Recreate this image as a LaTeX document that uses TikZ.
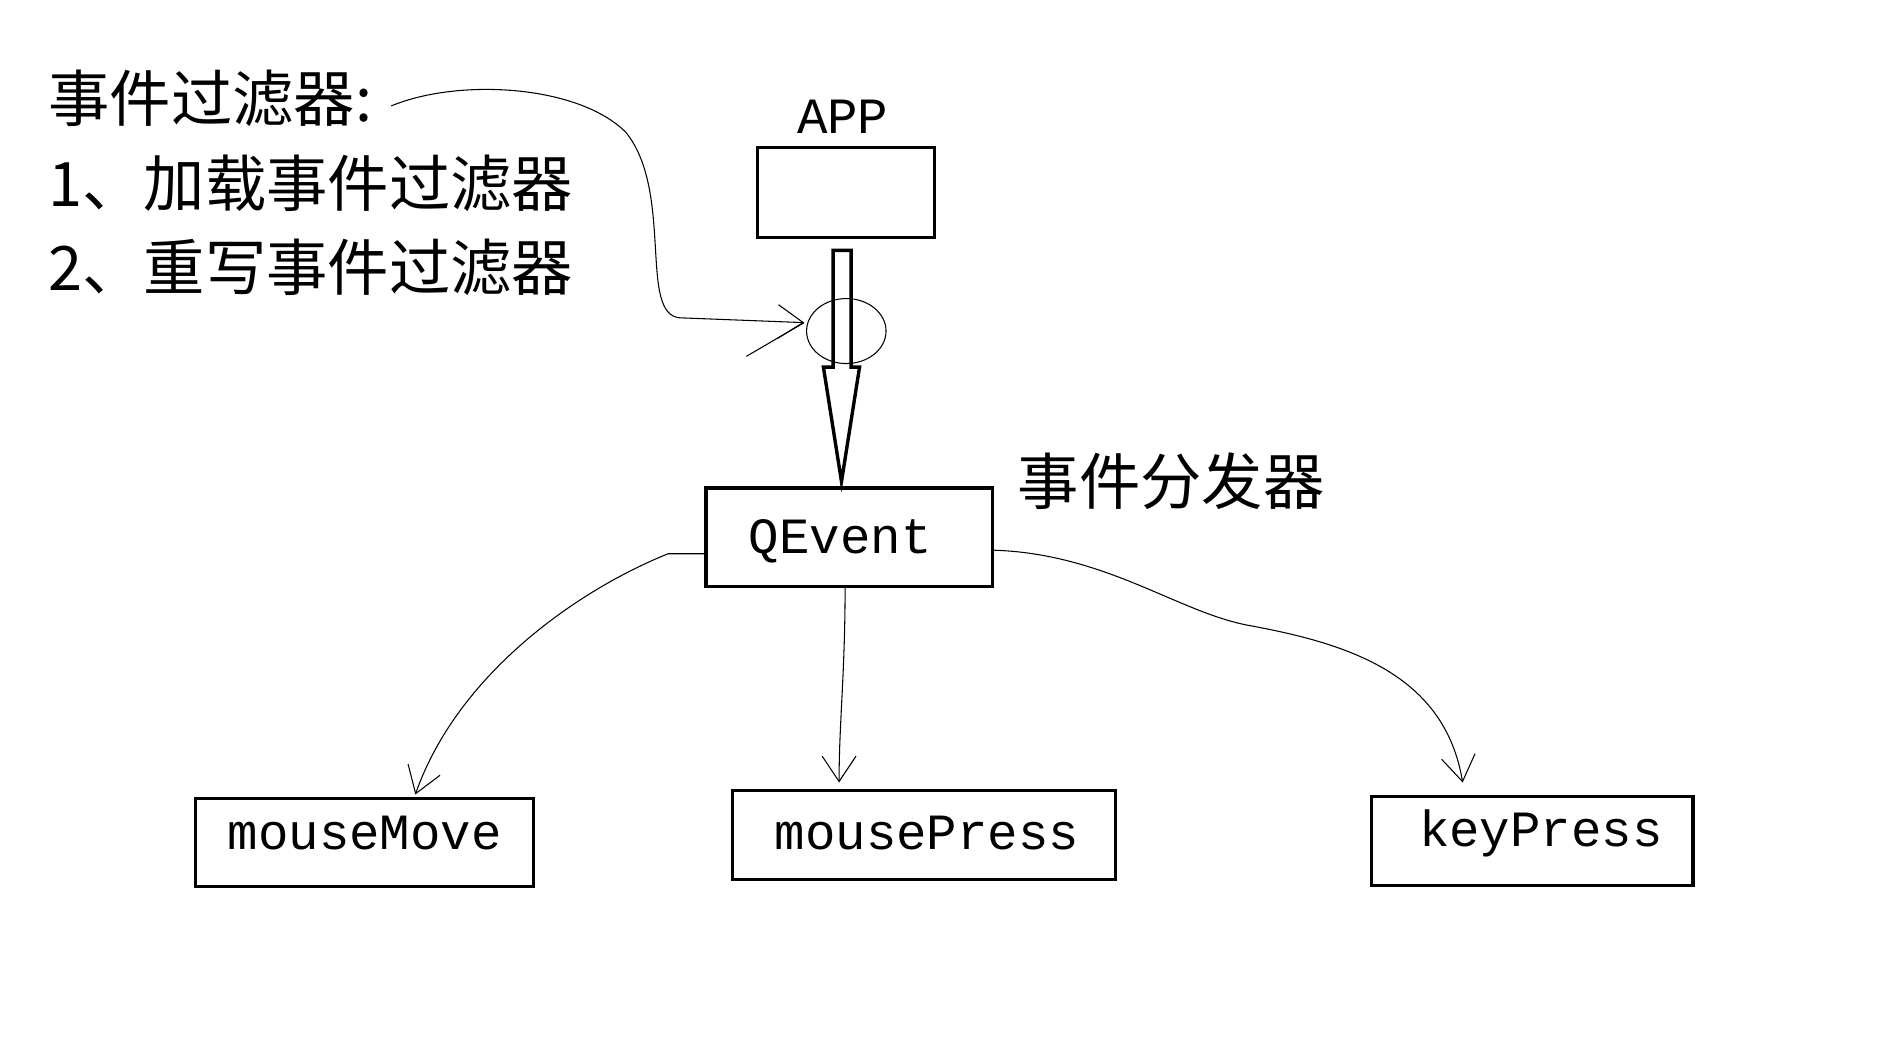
\documentclass[tikz,border=0pt]{standalone}
\usepackage{fontspec}
\newfontfamily\cjk{Noto Sans CJK SC}
\newfontfamily\mono{Liberation Mono}
\usetikzlibrary{arrows.meta}
\begin{document}
\begin{tikzpicture}[x=0.02cm,y=-0.02cm,
  box/.style={draw,line width=1.6pt,inner sep=0pt,anchor=north west},
  lbl/.style={font=\mono\fontsize{24}{26}\selectfont},
  zh/.style={font=\cjk\fontsize{29}{32}\selectfont,anchor=west,inner sep=0pt},
  thin/.style={line width=0.5pt,-{Straight Barb[length=12pt,width=16pt]}}]
\useasboundingbox (0,0) rectangle (1560,875);
\node[zh] (t1) at (40,82) {事件过滤器:};
\node[zh] (t2) at (40,152) {1、加载事件过滤器};
\node[zh] (t3) at (40,222) {2、重写事件过滤器};
\node[lbl,inner sep=0pt] (applbl) at (700,97) {APP};
\node[box,minimum width=147*0.02cm,minimum height=75*0.02cm] (app) at (628,121) {};
\draw[line width=1.6pt] (692,208) -- (707,208) -- (707,305) -- (714,305) -- (699,400) -- (684,305) -- (692,305) -- cycle;
\draw[line width=0.5pt] (703,275) ellipse (33 and 27);
\coordinate (tip) at (668,268);
\draw[thin] (325,88) .. controls (380,65) and (480,70) .. (520,110)
  .. controls (560,160) and (530,262) .. (565,264) -- (tip);
\draw[line width=0.5pt] (tip) -- (620,296);
\node[box,minimum width=238*0.02cm,minimum height=82*0.02cm] (qe) at (585,404) {};
\node[lbl] at (698,450) {QEvent};
\node[zh] (fa) at (845,400) {事件分发器};
\node[box,minimum width=281*0.02cm,minimum height=73*0.02cm] (mm) at (161,662) {};
\node[lbl] at (303,692) {mouseMove};
\node[box,minimum width=318*0.02cm,minimum height=74*0.02cm] (mp) at (607,655) {};
\node[lbl] at (770,692) {mousePress};
\node[box,minimum width=267*0.02cm,minimum height=74*0.02cm] (kp) at (1138,660) {};
\node[lbl] at (1280,692) {keyPress};
\draw[thin] (qe.west|-0,460) -- (555,460) .. controls (480,490) and (380,560) .. (345,660);
\draw[thin] (702,487) .. controls (702,560) and (697,600) .. (697,650);
\draw[thin] (825,457) .. controls (920,460) and (980,510) .. (1040,520)
  .. controls (1120,535) and (1200,560) .. (1215,650);
\end{tikzpicture}
\end{document}
